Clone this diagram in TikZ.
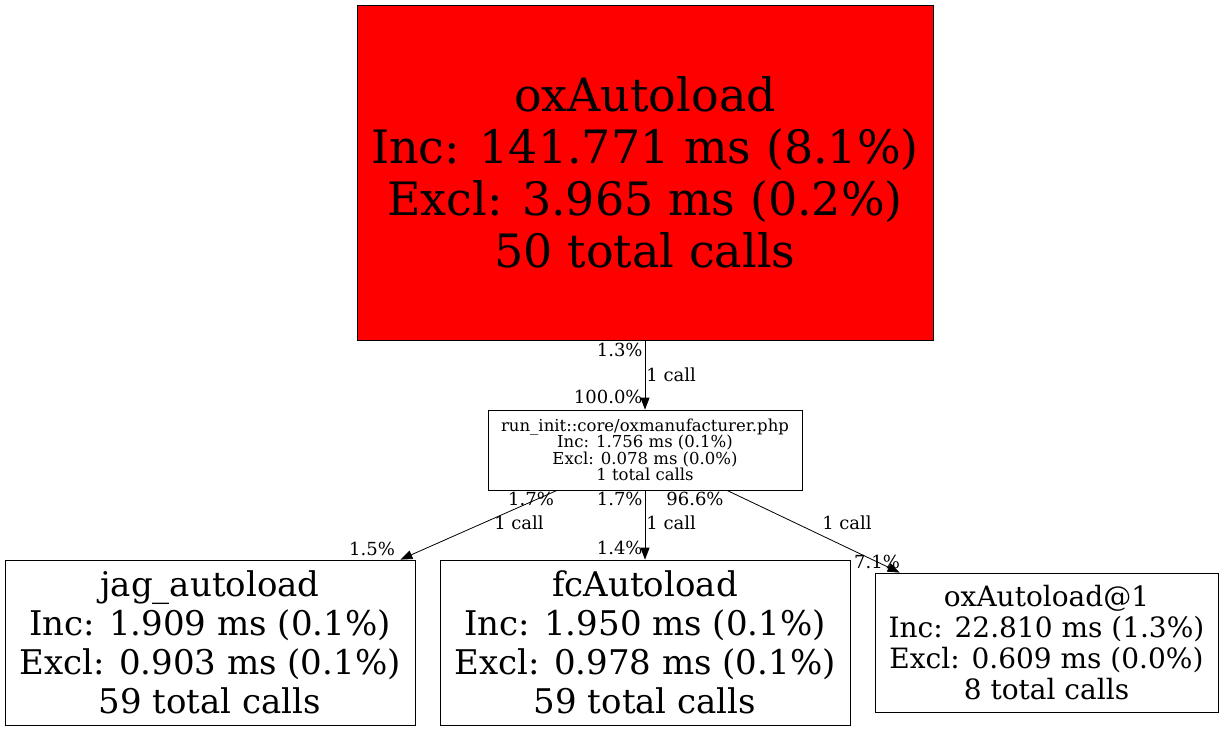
\documentclass[tikz,border=0pt]{standalone}
\usepackage{fontspec}
\setmainfont{DejaVu Serif}
\usetikzlibrary{arrows.meta}

\begin{document}
\begin{tikzpicture}[x=1pt,y=-1pt,line width=0.8pt,
    fn/.style={draw=black,rectangle,inner sep=0pt,align=center},
    pct/.style={font=\fontsize{18}{19}\selectfont,inner sep=0pt},
    call/.style={-{Triangle[length=12pt,width=9pt]},black}]
  \useasboundingbox (0,0) rectangle (1224,731);
  % functions
  \node[fn,fill=red,minimum width=576pt,minimum height=335pt,font=\fontsize{46}{52}\selectfont] (main) at (645,172.5)
    {oxAutoload\\Inc: 141.771 ms (8.1\%)\\Excl: 3.965 ms (0.2\%)\\50 total calls};
  \node[fn,minimum width=314pt,minimum height=80pt,font=\fontsize{16.5}{16.5}\selectfont] (run) at (645,450)
    {run\_init::core/oxmanufacturer.php\\Inc: 1.756 ms (0.1\%)\\Excl: 0.078 ms (0.0\%)\\1 total calls};
  \node[fn,minimum width=410pt,minimum height=165pt,font=\fontsize{34}{39}\selectfont] (jag) at (210,642.5)
    {jag\_autoload\\Inc: 1.909 ms (0.1\%)\\Excl: 0.903 ms (0.1\%)\\59 total calls};
  \node[fn,minimum width=410pt,minimum height=165pt,font=\fontsize{34}{39}\selectfont] (fc) at (645,642.5)
    {fcAutoload\\Inc: 1.950 ms (0.1\%)\\Excl: 0.978 ms (0.1\%)\\59 total calls};
  \node[fn,minimum width=343pt,minimum height=139pt,font=\fontsize{28}{31}\selectfont] (ox1) at (1046.5,642.5)
    {oxAutoload@1\\Inc: 22.810 ms (1.3\%)\\Excl: 0.609 ms (0.0\%)\\8 total calls};
  % calls
  \draw[call] (main.south) -- (run.north);
  \draw[call] ([xshift=-88pt]run.south) -- ([xshift=-15pt]jag.north east);
  \draw[call] (run.south) -- (fc.north);
  \draw[call] ([xshift=82pt]run.south) -- ([xshift=25pt]ox1.north west);
  % labels
  \node[pct,anchor=east] (mt) at (643,350) {1.3\%};
  \node[pct,anchor=west] (mc) at (646,375) {1 call};
  \node[pct,anchor=east] (mh) at (643,397) {100.0\%};
  \node[pct] (jt) at (531,499) {1.7\%};
  \node[pct] (jc) at (519,523) {1 call};
  \node[pct] (jh) at (372,549) {1.5\%};
  \node[pct,anchor=east] (ft) at (643,499) {1.7\%};
  \node[pct,anchor=west] (fcl) at (646,523) {1 call};
  \node[pct,anchor=east] (fh) at (643,548) {1.4\%};
  \node[pct] (ot) at (695,499) {96.6\%};
  \node[pct] (oc) at (847,523) {1 call};
  \node[pct] (oh) at (877,562) {7.1\%};
\end{tikzpicture}
\end{document}
